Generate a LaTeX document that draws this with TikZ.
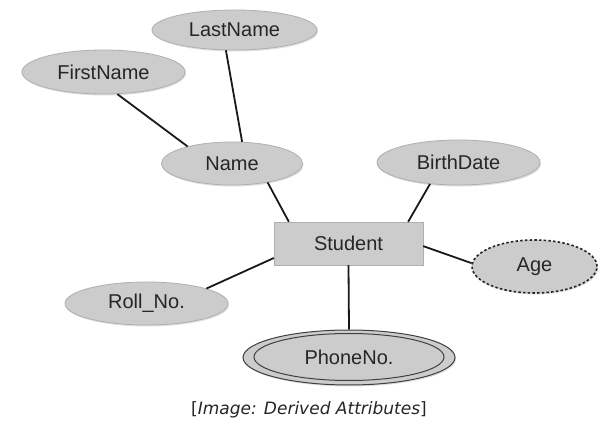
\documentclass[tikz,border=0pt]{standalone}
\usepackage{fontspec}
\setmainfont{Liberation Sans}
\newfontfamily\capfont{DejaVu Sans}
\usetikzlibrary{shapes.geometric,shadows}
\definecolor{attrfill}{RGB}{204,204,204}
\definecolor{attrline}{RGB}{175,175,175}
\begin{document}
\begin{tikzpicture}[x=1pt,y=-1pt,
  lbl/.style={font=\fontsize{20}{23}\selectfont,text=black!85},
  attr/.style={ellipse,draw=attrline,fill=attrfill,line width=0.8pt,inner sep=0pt,lbl,
    drop shadow={shadow xshift=1pt,shadow yshift=-1.5pt,opacity=0.25}},
  entity/.style={rectangle,draw=attrline,fill=attrfill,inner sep=0pt,lbl,
    drop shadow={shadow xshift=1pt,shadow yshift=-1.5pt,opacity=0.25}},
  link/.style={line width=1.8pt,black!90}]
\useasboundingbox[fill=white] (0,0) rectangle (610,435);
\node[attr,minimum width=165pt,minimum height=40pt] (last) at (234.5,30) {LastName};
\node[attr,minimum width=163pt,minimum height=44pt] (first) at (103.5,72) {FirstName};
\node[attr,minimum width=141pt,minimum height=43pt] (name) at (232,163.5) {Name};
\node[attr,minimum width=163pt,minimum height=45pt] (birth) at (458.5,162.5) {BirthDate};
\node[entity,minimum width=149pt,minimum height=43pt] (student) at (348.5,243.5) {Student};
\node[attr,draw=black!85,dash pattern=on 2.5pt off 2.2pt,line width=1.6pt,minimum width=125pt,minimum height=53pt] (age) at (534.5,266.5) {Age};
\node[attr,minimum width=163pt,minimum height=43pt] (roll) at (146.5,303.5) {Roll\_No.};
\node[attr,draw=black!75,line width=1pt,minimum width=212pt,minimum height=55pt] (phone) at (349,357.5) {};
\node[ellipse,draw=black!75,line width=1pt,fill=attrfill,minimum width=190pt,minimum height=47pt,inner sep=0pt,lbl] (phonein) at (349,357) {PhoneNo.};
\draw[link] (first.-58) -- (name.159);
\draw[link] (last.-113) -- (name.65);
\draw[link] (name.-28) -- (student.160);
\draw[link] (birth.-143.5) -- (student.20);
\draw[link] (student.-2.7) -- (age.177);
\draw[link] (student.-169) -- (roll.14);
\draw[link] (student.south) -- (phone.north);
\node[font=\capfont\fontsize{17}{20}\selectfont,text=black!85] (cap) at (309,410) {[\textit{Image: Derived Attributes}]};
\end{tikzpicture}
\end{document}
